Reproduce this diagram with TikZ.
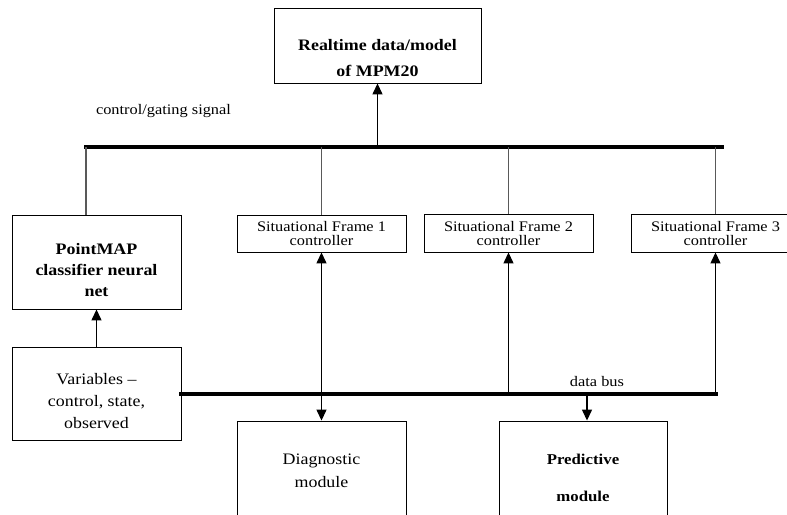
\documentclass[tikz,border=0pt]{standalone}
\usepackage{fontspec}
\setmainfont{Liberation Serif}[FakeStretch=1.12]
\usetikzlibrary{arrows.meta}
\begin{document}
\begin{tikzpicture}[x=1pt,y=-1pt,
  box/.style={draw=black, line width=0.9pt, rectangle, inner sep=0pt},
  lbl/.style={inner sep=0pt, align=center},
  bus/.style={line width=4pt, line cap=rect},
  gline/.style={draw=black!65, line width=1.3pt},
  arr/.style={line width=1.3pt, -{Triangle[width=10pt,length=11pt]}},
  arrboth/.style={line width=1.3pt, {Triangle[width=10pt,length=11pt]}-{Triangle[width=10pt,length=11pt]}},
  small/.style={font=\fontsize{14.6}{14}\selectfont},
  big/.style={font=\fontsize{16}{22}\selectfont}
]
\useasboundingbox (0,0) rectangle (787,514);
\clip (0,0) rectangle (787,514);
\fill[white] (0,0) rectangle (787,514);

% boxes
\node[box, minimum width=207, minimum height=75] (rt) at (377.5,45.5) {};
\node[box, minimum width=169, minimum height=94] (pm) at (96.5,262) {};
\node[box, minimum width=169, minimum height=93] (var) at (96.5,393.5) {};
\node[box, minimum width=169, minimum height=37] (sf1) at (321.5,233.5) {};
\node[box, minimum width=169, minimum height=38] (sf2) at (508.5,233) {};
\node[box, minimum width=169, minimum height=38] (sf3) at (715.5,233) {};
\node[box, minimum width=169, minimum height=140] (diag) at (321.5,491) {};
\node[box, minimum width=168, minimum height=140] (pred) at (583,491) {};

% texts
\node[lbl, font=\fontsize{16}{26}\selectfont\bfseries] (rt-t) at (377.5,58) {Realtime data/model\\of MPM20};
\node[lbl, font=\fontsize{16}{21}\selectfont\bfseries] (pm-t) at (96.5,270) {PointMAP\\classifier neural\\net};
\node[lbl, big] (var-t) at (96.5,401) {Variables --\\control, state,\\observed};
\node[lbl, small] (sf1-t) at (321.5,234) {Situational Frame 1\\controller};
\node[lbl, small] (sf2-t) at (508.5,234) {Situational Frame 2\\controller};
\node[lbl, small] (sf3-t) at (715.5,234) {Situational Frame 3\\controller};
\node[lbl, font=\fontsize{16}{23}\selectfont] (diag-t) at (321.5,471) {Diagnostic\\module};
\node[lbl, font=\fontsize{15}{37}\selectfont\bfseries] (pred-t) at (583,478) {Predictive\\module};
\node[lbl, small] (cg) at (163.5,111) {control/gating signal};
\node[lbl, small] (db) at (597,382) {data bus};

% buses
\coordinate (cbl) at (86,147);
\coordinate (cbr) at (722,147);
\coordinate (dbr) at (716,394);
\draw[bus] (cbl) -- (cbr);
\draw[bus] (var.east |- dbr) -- (dbr);

% control lines
\draw[gline] (cbl) -- (cbl |- pm.north);
\draw[gline] (sf1.north |- cbl) -- (sf1.north);
\draw[gline] (sf2.north |- cbl) -- (sf2.north);
\draw[gline] (sf3.north |- cbl) -- (sf3.north);
\draw[arr] (rt.south |- cbl) -- (rt.south);

% data arrows
\draw[arr] (var.north) -- (pm.south);
\draw[arrboth] (diag.north) -- (sf1.south);
\draw[arr] (sf2.south |- dbr) -- (sf2.south);
\draw[arr] (sf3.south |- dbr) -- (sf3.south);
\coordinate (pd) at (587,394);
\draw[arr] (pd) -- (pd |- pred.north);
\end{tikzpicture}
\end{document}
